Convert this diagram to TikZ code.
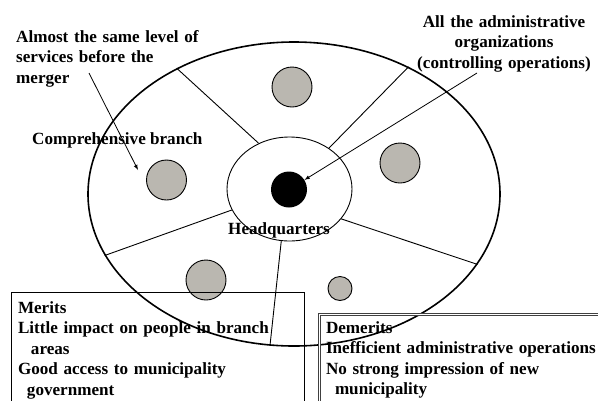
\documentclass[tikz,border=0pt]{standalone}
\usepackage{fontspec}
\setmainfont{Liberation Serif}
\usetikzlibrary{shapes.geometric}
\definecolor{branchgray}{RGB}{186,183,176}

\begin{document}
\begin{tikzpicture}[x=1pt,y=-1pt,
    txt/.style={font=\bfseries\fontsize{17.1}{20.5}\selectfont, inner sep=0pt},
    branch/.style={circle, draw, fill=branchgray, line width=0.9pt, minimum size=40pt, inner sep=0pt},
    listbox/.style={txt, anchor=north west, align=left, outer sep=0pt, text height=12pt}]
    \useasboundingbox (0,0) rectangle (598,400);

    \node[ellipse, draw, line width=1.6pt, minimum width=412pt, minimum height=304pt] (city) at (294,194) {};
    \node[ellipse, draw, line width=0.9pt, minimum width=125pt, minimum height=104pt] (center) at (289.5,189) {};
    \node[circle, fill=black, minimum size=36pt, inner sep=0pt] (hq) at (289,189.5) {};

    \node[branch] (B1) at (292,87) {};
    \node[branch] (B2) at (400,163) {};
    \node[branch] (B3) at (166.5,180) {};
    \node[branch] (B4) at (206,280) {};
    \node[branch, minimum size=24pt] (B5) at (340,288.5) {};

    % sector borders
    \draw[line width=0.9pt] (center.124.4) -- (city.133.8);
    \draw[line width=0.9pt] (center.46.1) -- (city.48.1);
    \draw[line width=0.9pt] (center.200.3) -- (city.198);
    \draw[line width=0.9pt] (center.330.3) -- (city.339.1);
    \draw[line width=0.9pt] (center.261.9) -- (city.261.8);

    \node[txt, anchor=base west, text width=200pt, align=left] (sameLvl) at (16,42) {Almost the same level of\\services before the\\merger};
    \node[txt, anchor=base west] (compLbl) at (32,144) {Comprehensive branch};
    \node[txt, anchor=base, text width=190pt, align=center] (adminLbl) at (504,27) {All the administrative\\organizations\\(controlling operations)};
    \node[txt, anchor=base west] (hqLbl) at (228,234) {Headquarters};

    \coordinate (sameTail) at (89,73);
    \coordinate (sameTip) at (138,170);
    \coordinate (adminTail) at (477,73);
    \draw[-latex, line width=0.8pt] (sameTail) -- (sameTip);
    \draw[-latex, line width=0.8pt] (adminTail) -- (hq);

    \node[listbox, draw, line width=0.8pt, text width=279pt, inner xsep=7pt, inner ysep=9pt] (merits) at (11,292)
      {Merits\\Little impact on people in branch\\\hspace*{13pt}areas\\Good access to municipality\\\hspace*{9pt}government};
    \node[listbox, draw=black!75, double=white, double distance=1.6pt, line width=0.8pt, text width=290pt, inner xsep=6.5pt, inner ysep=6.4pt] (demerits) at (319.5,314.6)
      {Demerits\\Inefficient administrative operations\\No strong impression of new\\\hspace*{9pt}municipality};
\end{tikzpicture}
\end{document}
